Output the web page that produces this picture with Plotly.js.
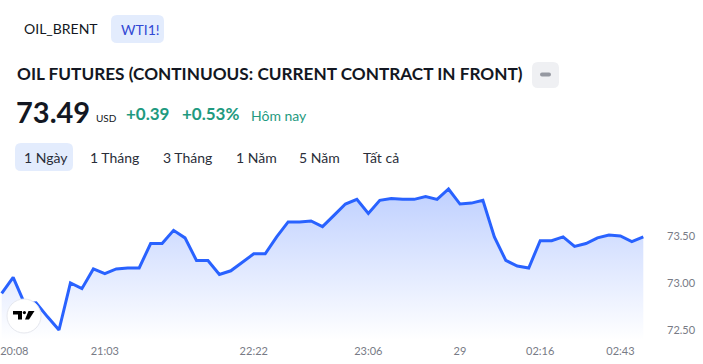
<!DOCTYPE html>
<html>
<head>
<meta charset="utf-8">
<script src="https://cdn.plot.ly/plotly-3.0.1.min.js"></script>
<style>
html,body{margin:0;padding:0;background:#fff;}
#chart{width:703px;height:364px;}
</style>
</head>
<body>
<div id="chart"></div>
<script>
// ---- data ----
var prices = [72.89, 73.06, 72.78, 72.79, 72.64, 72.50, 73.00, 72.94, 73.15, 73.10,
  73.15, 73.16, 73.16, 73.42, 73.42, 73.56, 73.48, 73.24, 73.24, 73.09,
  73.13, 73.22, 73.31, 73.31, 73.49, 73.65, 73.65, 73.66, 73.60, 73.72,
  73.84, 73.89, 73.74, 73.88, 73.90, 73.89, 73.89, 73.92, 73.89, 74.00,
  73.84, 73.85, 73.88, 73.49, 73.24, 73.18, 73.16, 73.45, 73.45, 73.49,
  73.39, 73.42, 73.48, 73.51, 73.50, 73.44, 73.49];
var xTickIndex = [1.1, 9, 22, 32, 40, 47, 54];
var xTickLabels = ["20:08", "21:03", "22:22", "23:06", "29", "02:16", "02:43"];
var yTickValues = [72.5, 73.0, 73.5];
var yTickLabels = ["72.50", "73.00", "73.50"];
var tabs = ["OIL_BRENT", "WTI1!"];
var titleText = "OIL FUTURES (CONTINUOUS: CURRENT CONTRACT IN FRONT)";
var lastPrice = "73.49";
var currency = "USD";
var changeAbs = "+0.39";
var changePct = "+0.53%";
var changeLabel = "Hôm nay";
var ranges = ["1 Ngày", "1 Tháng", "3 Tháng", "1 Năm", "5 Năm", "Tất cả"];

// ---- layout geometry (pixels) ----
var W = 703, H = 364;
var L = 0, R = 53, T = 180, B = 24;
var PW = W - L - R, PH = H - T - B;
function px(x) { return (x - L) / PW; }
function py(y) { return (H - B - y) / PH; }

var idx = prices.map(function (_, i) { return i; });
var FONT = "Lato, 'Open Sans', sans-serif";

function rrect(x0, y0, x1, y1, r, fill) {
  var p = "M" + px(x0 + r) + "," + py(y0) +
    " L" + px(x1 - r) + "," + py(y0) +
    " Q" + px(x1) + "," + py(y0) + " " + px(x1) + "," + py(y0 + r) +
    " L" + px(x1) + "," + py(y1 - r) +
    " Q" + px(x1) + "," + py(y1) + " " + px(x1 - r) + "," + py(y1) +
    " L" + px(x0 + r) + "," + py(y1) +
    " Q" + px(x0) + "," + py(y1) + " " + px(x0) + "," + py(y1 - r) +
    " L" + px(x0) + "," + py(y0 + r) +
    " Q" + px(x0) + "," + py(y0) + " " + px(x0 + r) + "," + py(y0) + " Z";
  return {type: "path", xref: "paper", yref: "paper", path: p, fillcolor: fill, line: {width: 0}, layer: "below"};
}
function poly(pts, fill) {
  var p = pts.map(function (q, i) { return (i ? "L" : "M") + px(q[0]) + "," + py(q[1]); }).join(" ") + " Z";
  return {type: "path", xref: "paper", yref: "paper", path: p, fillcolor: fill, line: {width: 0}};
}
function ann(text, x, y, size, color, bold) {
  return {text: bold ? "<b>" + text + "</b>" : text, x: px(x), y: py(y), xref: "paper", yref: "paper",
    xanchor: "left", yanchor: "middle", showarrow: false, borderpad: 0,
    font: {family: FONT, size: size, color: color}};
}

var green = "#1f9a80";
var shapes = [
  rrect(111, 15, 164, 43, 6, "#e3ecfd"),
  rrect(532, 62, 559, 88, 6, "#eff0f3"),
  rrect(540, 72.5, 551, 76.5, 2, "#9598a1"),
  rrect(15, 143, 73, 171, 6, "#e3ecfd"),
  // TradingView logo
  {type: "circle", xref: "paper", yref: "paper", x0: px(7), x1: px(41), y0: py(299), y1: py(333),
    fillcolor: "#ffffff", line: {color: "#e6e8ee", width: 1}},
  poly([[13, 311], [22, 311], [22, 319.5], [18, 319.5], [18, 314.5], [13, 314.5]], "#000000"),
  {type: "circle", xref: "paper", yref: "paper", x0: px(22.8), x1: px(26), y0: py(311), y1: py(314.2),
    fillcolor: "#000000", line: {width: 0}},
  poly([[28.5, 311], [34.5, 311], [29, 319.5], [25, 319.5]], "#000000")
];

var annotations = [
  ann(tabs[0], 23, 28, 14, "#131722"),
  ann(tabs[1], 120, 29, 14, "#3249d4"),
  ann(titleText, 16, 74, 17.2, "#131722", true),
  ann(lastPrice, 15, 111, 29, "#131722", true),
  ann(currency, 95, 118, 10, "#131722"),
  ann(changeAbs, 125, 114, 17, green, true),
  ann(changePct, 181, 114, 17, green, true),
  ann(changeLabel, 250, 115, 14, green)
];
var rangeX = [23, 89, 162, 235, 298, 362];
ranges.forEach(function (r, i) { annotations.push(ann(r, rangeX[i], 157, 14, "#2a2e39")); });

var x0 = 1.7, step = (643.3 - 1.7) / (prices.length - 1);
var xr = [(L - x0) / step, (L + PW - x0) / step];
var yPer = 94; // px per 1.0
var yr = [73.5 - (H - B - 236) / yPer, 73.5 + (236 - T) / yPer];

var trace = {
  x: idx, y: prices, type: "scatter", mode: "lines",
  line: {color: "#2962ff", width: 3},
  fill: "tozeroy",
  fillgradient: {type: "vertical", start: yr[0], stop: 74.0,
    colorscale: [[0, "rgba(41,98,255,0.0)"], [1, "rgba(41,98,255,0.30)"]]},
  hoverinfo: "skip"
};

var layout = {
  width: W, height: H,
  margin: {l: L, r: R, t: T, b: B, pad: 0},
  paper_bgcolor: "#ffffff", plot_bgcolor: "#ffffff",
  showlegend: false,
  xaxis: {range: xr, showgrid: false, zeroline: false, showline: false,
    tickmode: "array", tickvals: xTickIndex, ticktext: xTickLabels, ticks: "",
    ticklabeloverflow: "allow", ticklabelstandoff: 3,
    tickfont: {family: FONT, size: 11, color: "#787b86"}, fixedrange: true},
  yaxis: {range: yr, side: "right", showgrid: false, zeroline: false, showline: false,
    tickmode: "array", tickvals: yTickValues, ticktext: yTickLabels, ticks: "",
    ticklabelstandoff: 16,
    tickfont: {family: FONT, size: 11, color: "#787b86"}, fixedrange: true},
  shapes: shapes,
  annotations: annotations
};

Plotly.newPlot("chart", [trace], layout, {displayModeBar: false, staticPlot: true});
</script>
</body>
</html>
